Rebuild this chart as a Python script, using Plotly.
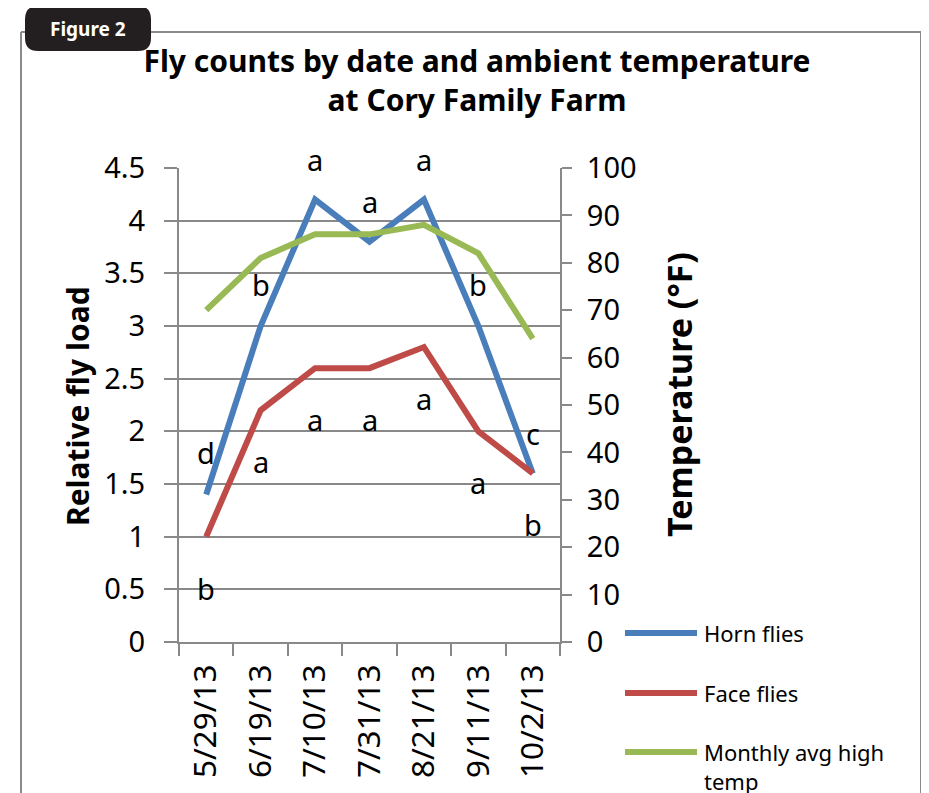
import plotly.graph_objects as go

# ---------------- data ----------------
dates = ["5/29/13", "6/19/13", "7/10/13", "7/31/13", "8/21/13", "9/11/13", "10/2/13"]
horn_flies = [1.4, 3.0, 4.2, 3.8, 4.2, 3.0, 1.6]
face_flies = [1.0, 2.2, 2.6, 2.6, 2.8, 2.0, 1.6]
monthly_avg_high_temp = [70, 81, 86, 86, 88, 82, 64]

# significance letters (text) for each series
horn_letters = ["d", "b", "a", "a", "a", "b", "c"]
face_letters = ["b", "a", "a", "a", "a", "a", "b"]

series_names = ["Horn flies", "Face flies", "Monthly avg high<br>temp"]
left_title = "Relative fly load"
right_title = "Temperature (°F)"

# ---------------- style / placement ----------------
BLUE = "#4A7EBB"
RED = "#BE4B48"
GREEN = "#98B954"
GRID = "#898989"
FONT = "Noto Sans"
W, H = 929, 793
OFF = 8                       # page body margin of the html page
L, R, T, B = 179, 560, 168, 642  # plot area in page pixels
YMAX = 4.5

# letter label heights (left-axis units)
horn_letter_y = [1.80, 3.39, 4.58, 4.18, 4.58, 3.39, 1.98]
face_letter_y = [0.51, 1.71, 2.11, 2.11, 2.31, 1.51, 1.12]


def px(x):
    return (x - L) / (R - L)


def py(y):
    return (B - y) / (B - T)


fig = go.Figure()
fig.add_trace(go.Scatter(x=dates, y=horn_flies, name="Horn flies", mode="lines",
                         line=dict(color=BLUE, width=6), yaxis="y"))
fig.add_trace(go.Scatter(x=dates, y=face_flies, name="Face flies", mode="lines",
                         line=dict(color=RED, width=6), yaxis="y"))
fig.add_trace(go.Scatter(x=dates, y=monthly_avg_high_temp, name="Monthly avg high temp",
                         mode="lines", line=dict(color=GREEN, width=6), yaxis="y2"))

annotations = []
for letters, ys in ((horn_letters, horn_letter_y), (face_letters, face_letter_y)):
    for d, t, y in zip(dates, letters, ys):
        annotations.append(dict(x=d, y=y / YMAX, xref="x", yref="y domain", text=t,
                                showarrow=False, xanchor="center", yanchor="middle",
                                font=dict(family=FONT, size=29, color="black")))

# axis titles
annotations.append(dict(x=px(77), y=py(406), xref="paper", yref="paper",
                        text=f"<b>{left_title}</b>", textangle=-90, showarrow=False,
                        xanchor="center", yanchor="middle",
                        font=dict(family=FONT, size=30, color="black")))
annotations.append(dict(x=px(679), y=py(395), xref="paper", yref="paper",
                        text=f"<b>{right_title}</b>", textangle=-90, showarrow=False,
                        xanchor="center", yanchor="middle",
                        font=dict(family=FONT, size=34, color="black")))

# manual legend
shapes = []
leg_y = [633, 693, 752]
for color, name, ly in zip([BLUE, RED, GREEN], series_names, leg_y):
    shapes.append(dict(type="line", xref="paper", yref="paper", x0=px(625), x1=px(697),
                       y0=py(ly), y1=py(ly), line=dict(color=color, width=6)))
    annotations.append(dict(x=px(702), y=py(ly - 17), xref="paper", yref="paper", text=name,
                            showarrow=False, xanchor="left", yanchor="top", align="left",
                            font=dict(family=FONT, size=22, color="black")))

# outer frame
frame = dict(color="#8a8a8a", width=2)
shapes.append(dict(type="line", xref="paper", yref="paper", x0=px(21), x1=px(921),
                   y0=py(32), y1=py(32), line=frame))
shapes.append(dict(type="line", xref="paper", yref="paper", x0=px(21), x1=px(21),
                   y0=py(32), y1=py(800), line=frame))
shapes.append(dict(type="line", xref="paper", yref="paper", x0=px(921), x1=px(921),
                   y0=py(32), y1=py(800), line=frame))

# "Figure 2" badge (rounded rectangle)
bx0, bx1, by0, by1, rr = 25, 151, 6, 51, 13
pts = [
    f"M{px(bx0 + rr)},{py(by0)}",
    f"L{px(bx1 - rr)},{py(by0)}",
    f"Q{px(bx1)},{py(by0)} {px(bx1)},{py(by0 + rr)}",
    f"L{px(bx1)},{py(by1 - rr)}",
    f"Q{px(bx1)},{py(by1)} {px(bx1 - rr)},{py(by1)}",
    f"L{px(bx0 + rr)},{py(by1)}",
    f"Q{px(bx0)},{py(by1)} {px(bx0)},{py(by1 - rr)}",
    f"L{px(bx0)},{py(by0 + rr)}",
    f"Q{px(bx0)},{py(by0)} {px(bx0 + rr)},{py(by0)}",
    "Z",
]
shapes.append(dict(type="path", xref="paper", yref="paper", path=" ".join(pts),
                   fillcolor="#231f20", line=dict(width=0)))
annotations.append(dict(x=px(88), y=py(29), xref="paper", yref="paper", text="<b>Figure 2</b>",
                        showarrow=False, xanchor="center", yanchor="middle",
                        font=dict(family=FONT, size=19, color="white")))

fig.update_layout(
    width=W, height=H,
    margin=dict(l=L - OFF, r=W - R + OFF, t=T - OFF, b=H - B + OFF, autoexpand=False),
    paper_bgcolor="white", plot_bgcolor="white",
    showlegend=False,
    title=dict(text="<b>Fly counts by date and ambient temperature<br>at Cory Family Farm</b>",
               x=(477 - OFF) / W, xanchor="center", y=1 - (72 - OFF) / H, yanchor="middle",
               font=dict(family=FONT, size=30, color="black")),
    xaxis=dict(type="category", range=[-0.5, 6.5], tickson="boundaries", ticks="outside",
               ticklen=12, tickwidth=2, tickcolor=GRID, showline=True, linecolor=GRID,
               linewidth=2, showgrid=False, tickangle=-90, ticklabelstandoff=8,
               tickfont=dict(family=FONT, size=31.5, color="black")),
    yaxis=dict(range=[0, YMAX], tick0=0, dtick=0.5, ticks="outside", ticklen=13, tickwidth=2,
               tickcolor=GRID, showgrid=True, gridcolor=GRID, gridwidth=2, showline=True,
               linecolor=GRID, linewidth=2, zeroline=False, ticklabelstandoff=13,
               tickfont=dict(family=FONT, size=29, color="black")),
    yaxis2=dict(overlaying="y", side="right", range=[0, 100], tick0=0, dtick=10,
                ticks="outside", ticklen=10, tickwidth=2, tickcolor=GRID, showgrid=False,
                showline=True, linecolor=GRID, linewidth=2, zeroline=False,
                ticklabelstandoff=9,
                tickfont=dict(family=FONT, size=29, color="black")),
    annotations=annotations,
    shapes=shapes,
)

fig.write_html("out.html")
